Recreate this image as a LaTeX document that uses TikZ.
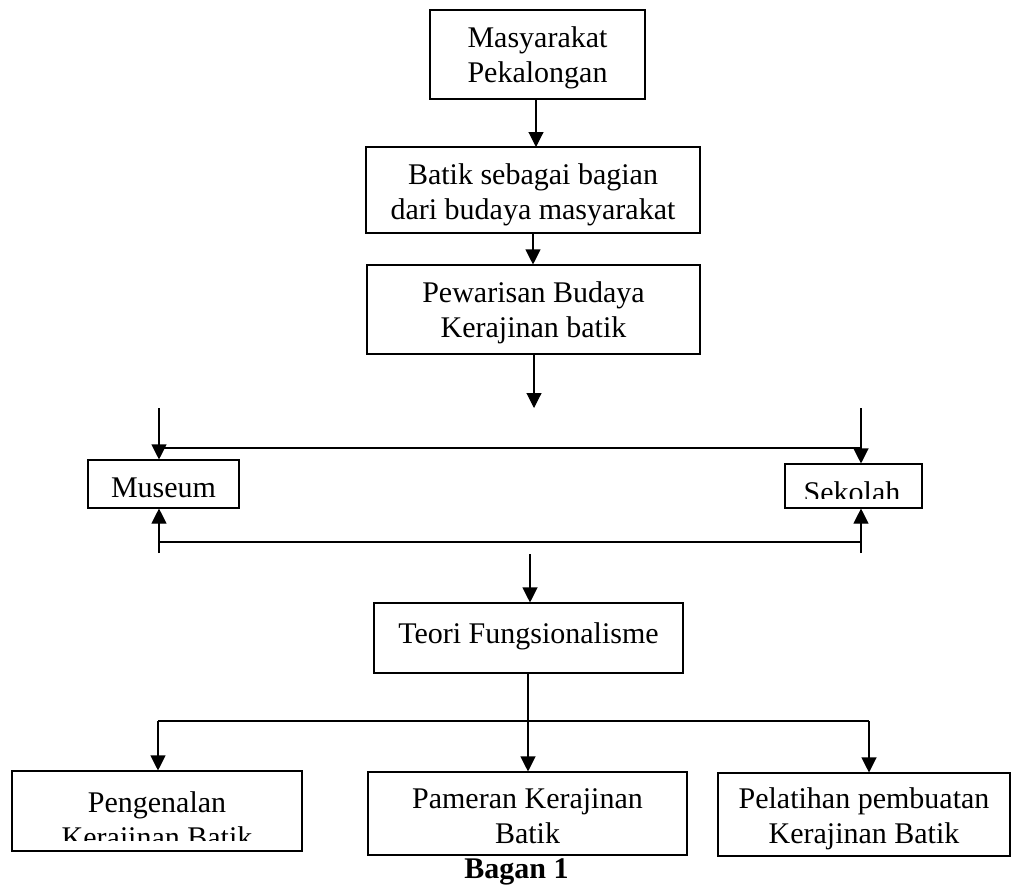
\documentclass[tikz,border=0pt]{standalone}
\usepackage{fontspec}
\setmainfont{Liberation Serif}
\usetikzlibrary{arrows.meta}
\begin{document}
\begin{tikzpicture}[x=1pt,y=-1pt,
  box/.style={draw,line width=1.1pt,inner sep=0pt,align=center,
    font=\fontsize{30}{35}\selectfont},
  txt/.style={inner sep=0pt,align=center,font=\fontsize{30}{35}\selectfont},
  conn/.style={line width=1.1pt},
  arr/.style={line width=1.1pt,-{Triangle[length=15pt,width=15pt]}}]
\useasboundingbox (0,0) rectangle (1011,884);
% main column
\node[box,minimum width=215pt,minimum height=89pt] (m) at (537.5,54.5) {};
\node[txt,anchor=base] (mtext) at (537.5,82) {Masyarakat\\Pekalongan};
\node[box,minimum width=334pt,minimum height=86pt] (b) at (533,190) {};
\node[txt,anchor=base] (btext) at (533,219) {Batik sebagai bagian\\dari budaya masyarakat};
\node[box,minimum width=333pt,minimum height=89pt] (p) at (533.5,309.5) {};
\node[txt,anchor=base] (ptext) at (533.5,337) {Pewarisan Budaya\\Kerajinan batik};
\coordinate (pend) at (534,408);
\draw[arr] (m.south -| 536,0) -- (536,147);
\draw[arr] (b.south -| 533,0) -- (p.north -| 533,0);
\draw[arr] (p.south -| 534,0) -- (pend);
% museum / sekolah
\node[box,minimum width=151pt,minimum height=48pt] (mus) at (163.5,484) {};
\node[txt,anchor=base] (mustext) at (163.5,497) {Museum};
\node[box,minimum width=137pt,minimum height=44pt] (sek) at (853.5,486) {};
\begin{scope}
\clip (786,465) rectangle (921,498);
\node[txt,anchor=base] (sektext) at (852,502) {Sekolah};
\end{scope}
\coordinate (mtop) at (159,408);
\coordinate (stop) at (861,408);
\coordinate (mbot) at (159,553);
\coordinate (sbot) at (861,553);
\draw[arr] (mtop) -- (mus.north -| mtop);
\draw[arr] (stop) -- (sek.north -| stop);
\draw[conn] (159,448) -- (861,448);
\draw[arr] (mbot) -- (mus.south -| mbot);
\draw[arr] (sbot) -- (sek.south -| sbot);
\draw[conn] (159,542) -- (861,542);
% teori
\node[box,minimum width=309pt,minimum height=70pt] (t) at (528.5,638) {};
\node[txt,anchor=base] (ttext) at (528.5,643) {Teori Fungsionalisme};
\coordinate (tstart) at (530,554);
\draw[arr] (tstart) -- (t.north -| tstart);
% bottom row
\node[box,minimum width=290pt,minimum height=80pt] (peng) at (157,811) {};
\begin{scope}
\clip (13,772) rectangle (301,840);
\node[txt,anchor=base] (pengtext) at (157,847) {Pengenalan\\Kerajinan Batik};
\end{scope}
\node[box,minimum width=319pt,minimum height=83pt] (pam) at (527.5,813.5) {};
\node[txt,anchor=base] (pamtext) at (527.5,843) {Pameran Kerajinan\\Batik};
\node[box,minimum width=292pt,minimum height=83pt] (pel) at (864,814.5) {};
\node[txt,anchor=base] (peltext) at (864,843) {Pelatihan pembuatan\\Kerajinan Batik};
\coordinate (split) at (528,721);
\draw[conn] (t.south -| split) -- (split);
\draw[arr] (split) -- (pam.north -| split);
\draw[conn] (158,721) -- (869,721);
\draw[arr] (158,721) -- (peng.north -| 158,0);
\draw[arr] (869,721) -- (pel.north -| 869,0);
\node[anchor=base,inner sep=0pt,font=\fontsize{30}{35}\selectfont\bfseries] (cap) at (516.5,878) {Bagan 1};
\end{tikzpicture}
\end{document}
